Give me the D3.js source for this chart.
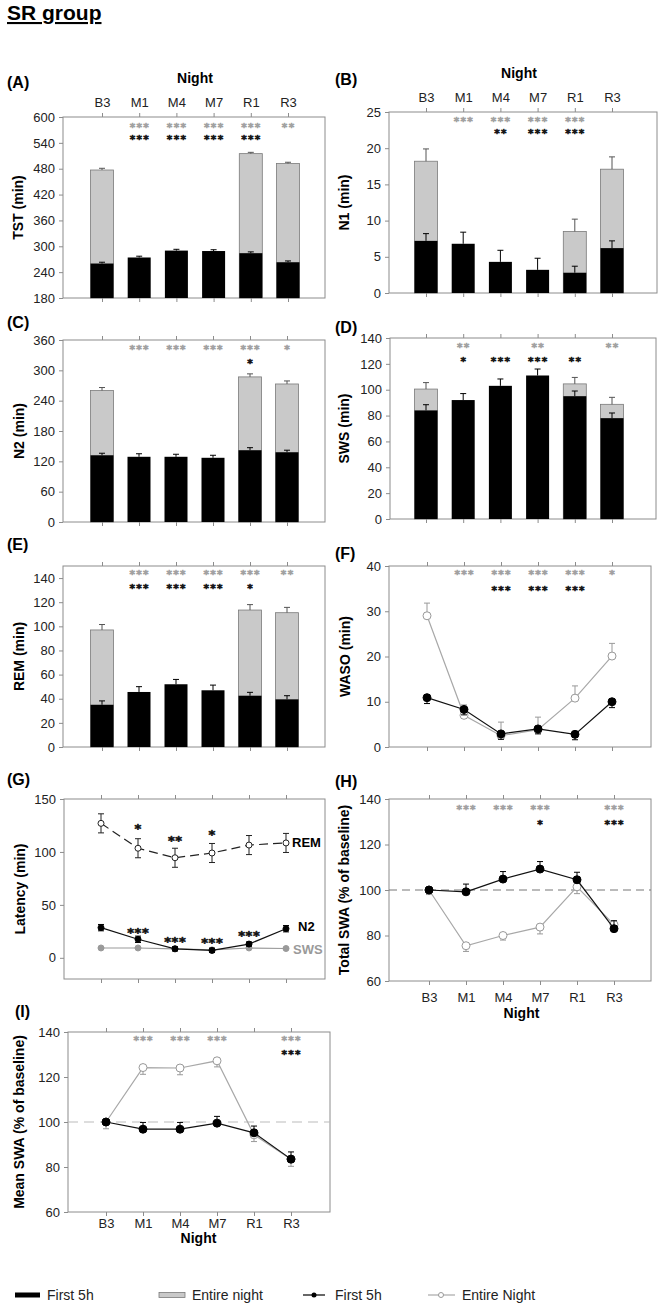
<!DOCTYPE html>
<html>
<head>
<meta charset="utf-8">
<script src="https://cdn.jsdelivr.net/npm/d3@7"></script>
<style>
  body { margin: 0; background: #fff; }
  svg text { font-family: "Liberation Sans", Arial, sans-serif; }
</style>
</head>
<body>
<svg id="fig" width="666" height="1308"></svg>
<script>
// nights on the x axis
const nights = ["B3", "M1", "M4", "M7", "R1", "R3"];

// (A) TST
const tstFirst = [260, 274, 290, 289, 284, 263];
const tstFirstErr = [3, 3, 3, 3, 3, 3];
const tstEntire = [477, null, null, null, 515, 492];
const tstEntireErr = [4, null, null, null, 3, 3];
const tstStarsGray = ["", "***", "***", "***", "***", "**"];
const tstStarsBlack = ["", "***", "***", "***", "***", ""];

// (B) N1
const n1First = [7.2, 6.8, 4.3, 3.2, 2.8, 6.2];
const n1FirstErr = [1.0, 1.6, 1.6, 1.6, 0.9, 1.0];
const n1Entire = [18.2, null, null, null, 8.5, 17.1];
const n1EntireErr = [1.7, null, null, null, 1.7, 1.7];
const n1StarsGray = ["", "***", "***", "***", "***", ""];
const n1StarsBlack = ["", "", "**", "***", "***", ""];

// (C) N2
const n2First = [132, 129, 129, 127, 142, 138];
const n2FirstErr = [4, 6, 5, 5, 5, 4];
const n2Entire = [260, null, null, null, 287, 273];
const n2EntireErr = [6, null, null, null, 6, 6];
const n2StarsGray = ["", "***", "***", "***", "***", "*"];
const n2StarsBlack = ["", "", "", "", "*", ""];

// (D) SWS
const swsFirst = [84, 92, 103, 111, 95, 78];
const swsFirstErr = [4.4, 5, 5.3, 5, 4, 4];
const swsEntire = [100.5, null, null, null, 104.5, 88.7];
const swsEntireErr = [5, null, null, null, 5, 5.4];
const swsStarsGray = ["", "**", "", "**", "", "**"];
const swsStarsBlack = ["", "*", "***", "***", "**", ""];

// (E) REM
const remFirst = [35, 45.6, 52, 47, 42.5, 39.5];
const remFirstErr = [3.2, 4.4, 4, 4.3, 2.8, 3];
const remEntire = [97, null, null, null, 113.5, 111.3];
const remEntireErr = [4.5, null, null, null, 4.5, 4.4];
const remStarsGray = ["", "***", "***", "***", "***", "**"];
const remStarsBlack = ["", "***", "***", "***", "*", ""];

// (F) WASO
const wasoFirst = [10.9, 8.3, 2.9, 4.0, 2.8, 10.0];
const wasoFirstErr = [1.3, 1.2, 1.2, 1.1, 1.2, 1.3];
const wasoEntire = [29.0, 7.0, 2.5, 3.8, 10.8, 20.1];
const wasoEntireErr = [2.8, 2.3, 3.0, 2.8, 2.7, 2.8];
const wasoStarsGray = ["", "***", "***", "***", "***", "*"];
const wasoStarsBlack = ["", "", "***", "***", "***", ""];

// (G) latencies
const latRem = [127, 103.5, 94.5, 99, 106.5, 108.5];
const latRemErr = [9, 9, 9, 9, 9, 9];
const latN2 = [28.5, 17.5, 8.5, 7, 13, 27.5];
const latN2Err = [3, 3, 2, 2, 2, 3];
const latSws = [9.3, 9.3, 8.5, 7.5, 9.3, 8.8];
const latSwsErr = [0.5, 0.5, 2, 2, 0.5, 0.5];
const latRemStars = ["", "*", "**", "*", "", ""];
const latN2Stars = ["", "***", "***", "***", "***", ""];

// (H) total SWA
const tswaFirst = [100, 99.2, 104.8, 109.2, 104.5, 83];
const tswaFirstErr = [0, 3.4, 3.3, 3.3, 3.3, 3.5];
const tswaEntire = [100, 75.5, 80, 83.7, 101.4, 84.8];
const tswaEntireErr = [2, 2.5, 2, 3, 3, 2];
const tswaStarsGray = ["", "***", "***", "***", "", "***"];
const tswaStarsBlack = ["", "", "", "*", "", "***"];

// (I) mean SWA
const mswaFirst = [100, 96.8, 96.8, 99.5, 95.2, 83.5];
const mswaFirstErr = [0, 3, 3, 3, 3, 3.2];
const mswaEntire = [100, 124.2, 124, 127.2, 94.3, 83.5];
const mswaEntireErr = [3, 3, 3, 2.7, 3, 3.2];
const mswaStarsGray = ["", "***", "***", "***", "", "***"];
const mswaStarsBlack = ["", "", "", "", "", "***"];

const FRAME = "#8c8c8c";
const GRAY_LINE = "#a8a8a8";
const GRAY_STAR = "#a0a0a0";
const STAR_FONT = "'DejaVu Sans', sans-serif";

const svg = d3.select("#fig");

// title
svg.append("text").attr("x", 7).attr("y", 20)
  .attr("font-size", 21).attr("font-weight", "bold")
  .attr("text-decoration", "underline").text("SR group");

function makePanel(p) {
  const g = svg.append("g");
  const x = d3.scalePoint().domain(nights).range(p.cat);
  const y = d3.scaleLinear().domain(p.domain).range([p.bottom, p.top]);

  g.append("rect")
    .attr("x", p.left).attr("y", p.top)
    .attr("width", p.right - p.left).attr("height", p.bottom - p.top)
    .attr("fill", "none").attr("stroke", FRAME);

  const ya = g.append("g").attr("transform", `translate(${p.left},0)`)
    .call(d3.axisLeft(y).tickValues(p.ticks).tickSize(4).tickPadding(4));
  const ta = g.append("g").attr("transform", `translate(0,${p.top})`)
    .call(d3.axisTop(x).tickSize(4).tickPadding(6));
  const ba = g.append("g").attr("transform", `translate(0,${p.bottom})`)
    .call(d3.axisBottom(x).tickSize(4).tickPadding(p.bottomPad || 6));

  [ya, ta, ba].forEach(a => {
    a.attr("font-family", null).attr("font-size", null);
    a.select(".domain").remove();
    a.selectAll("line").attr("stroke", FRAME);
    a.selectAll("text").attr("font-size", 13).attr("fill", "#222");
  });
  if (!p.topLabels) ta.selectAll("text").remove();
  if (!p.bottomLabels) ba.selectAll("text").remove();

  const mid = (p.cat[0] + p.cat[1]) / 2;
  if (p.topLabels) {
    g.append("text").attr("x", mid).attr("y", p.top - 34)
      .attr("text-anchor", "middle").attr("font-size", 14).attr("font-weight", "bold").text("Night");
  }
  if (p.bottomLabels) {
    g.append("text").attr("x", mid).attr("y", p.nightY)
      .attr("text-anchor", "middle").attr("font-size", 14).attr("font-weight", "bold").text("Night");
  }

  // y title
  const cy = (p.top + p.bottom) / 2;
  g.append("text")
    .attr("transform", `translate(${p.titleX},${cy}) rotate(-90)`)
    .attr("text-anchor", "middle").attr("font-size", 14).attr("font-weight", "bold")
    .text(p.title);

  // panel letter
  g.append("text").attr("x", p.lab[0]).attr("y", p.lab[1])
    .attr("font-size", 16).attr("font-weight", "bold").text(p.letter);

  const sg = g.append("g");
  return { g, sg, x, y, p };
}

function errBar(P, cx, v, e, dir, color) {
  if (v == null || e == null || e === 0) return;
  const y1 = P.y(v), y2 = P.y(v + dir * e);
  P.g.append("line").attr("x1", cx).attr("x2", cx).attr("y1", y1).attr("y2", y2)
    .attr("stroke", color).attr("stroke-width", 1);
  P.g.append("line").attr("x1", cx - 3).attr("x2", cx + 3).attr("y1", y2).attr("y2", y2)
    .attr("stroke", color).attr("stroke-width", 1);
}

function bars(P, first, firstErr, entire, entireErr) {
  const bw = 23;
  const base = P.y(P.p.domain[0]);
  const gray = nights.map((n, i) => ({ n, v: entire[i], e: entireErr[i] })).filter(d => d.v != null);
  const black = nights.map((n, i) => ({ n, v: first[i], e: firstErr[i] }));

  P.g.selectAll(".gbar").data(gray).join("rect").attr("class", "gbar")
    .attr("x", d => P.x(d.n) - bw / 2).attr("y", d => P.y(d.v))
    .attr("width", bw).attr("height", d => base - P.y(d.v))
    .attr("fill", "#c9c9c9").attr("stroke", "#7a7a7a").attr("stroke-width", 0.8);
  gray.forEach(d => errBar(P, P.x(d.n), d.v, d.e, 1, "#555"));

  P.g.selectAll(".bbar").data(black).join("rect").attr("class", "bbar")
    .attr("x", d => P.x(d.n) - bw / 2).attr("y", d => P.y(d.v))
    .attr("width", bw).attr("height", d => base - P.y(d.v))
    .attr("fill", "#000");
  black.forEach(d => errBar(P, P.x(d.n), d.v, d.e, 1, "#000"));
}

function series(P, vals, errs, o) {
  const pts = nights.map((n, i) => ({ n, v: vals[i], e: errs[i] }));
  pts.forEach(d => {
    if (o.errDir === 0) {
      errBar(P, P.x(d.n), d.v, d.e, 1, o.errColor);
      errBar(P, P.x(d.n), d.v, d.e, -1, o.errColor);
    } else {
      errBar(P, P.x(d.n), d.v, d.e, o.errDir, o.errColor);
    }
  });
  const line = d3.line().x(d => P.x(d.n)).y(d => P.y(d.v));
  P.g.append("path").datum(pts).attr("d", line)
    .attr("fill", "none").attr("stroke", o.stroke).attr("stroke-width", o.width || 1.2)
    .attr("stroke-dasharray", o.dash || null);
  P.g.selectAll(null).data(pts).join("circle")
    .attr("cx", d => P.x(d.n)).attr("cy", d => P.y(d.v)).attr("r", o.r || 4)
    .attr("fill", o.fill).attr("stroke", o.mstroke).attr("stroke-width", 1);
}

// one star string centred on (x, cy); a thin same-colour stroke fattens the small glyphs
function starText(P, x, cy, s, color, fs, ls) {
  P.sg.append("text").attr("x", x + ls / 2).attr("y", cy + 0.55 * fs)
    .attr("text-anchor", "middle").style("font-family", STAR_FONT)
    .style("letter-spacing", ls + "px")
    .attr("font-size", fs).attr("font-weight", "bold")
    .attr("fill", color).attr("stroke", color).attr("stroke-width", 0.6)
    .attr("stroke-linejoin", "round").text(s);
}

// gray row (entire night) above black row (first 5h)
function starRows(P, grayArr, blackArr, gy, by) {
  nights.forEach((n, i) => {
    if (grayArr[i]) starText(P, P.x(n), gy, grayArr[i], GRAY_STAR, 10.5, 1.3);
    if (blackArr[i]) starText(P, P.x(n), by, blackArr[i], "#111", 10.5, 1.3);
  });
}

function stars(P, arr, cys, color) {
  nights.forEach((n, i) => {
    if (arr[i]) starText(P, P.x(n), cys[i], arr[i], color, 13, 0.5);
  });
}

// ---------- panels ----------
const A = makePanel({ left: 63, right: 325, top: 117, bottom: 298, cat: [102, 288],
  domain: [180, 600], ticks: d3.range(180, 601, 60), title: "TST (min)", titleX: 23,
  letter: "(A)", lab: [7, 88], topLabels: true });
bars(A, tstFirst, tstFirstErr, tstEntire, tstEntireErr);
starRows(A, tstStarsGray, tstStarsBlack, 125.3, 137.7);

const B = makePanel({ left: 389, right: 657, top: 112, bottom: 293, cat: [426, 612],
  domain: [0, 25], ticks: d3.range(0, 26, 5), title: "N1 (min)", titleX: 349,
  letter: "(B)", lab: [335, 85], topLabels: true });
bars(B, n1First, n1FirstErr, n1Entire, n1EntireErr);
starRows(B, n1StarsGray, n1StarsBlack, 119.3, 131.7);

const C = makePanel({ left: 63, right: 325, top: 340, bottom: 522, cat: [102, 287],
  domain: [0, 360], ticks: d3.range(0, 361, 60), title: "N2 (min)", titleX: 24,
  letter: "(C)", lab: [7, 328] });
bars(C, n2First, n2FirstErr, n2Entire, n2EntireErr);
starRows(C, n2StarsGray, n2StarsBlack, 347, 361);

const D = makePanel({ left: 390, right: 656, top: 338, bottom: 519, cat: [426, 612],
  domain: [0, 140], ticks: d3.range(0, 141, 20), title: "SWS (min)", titleX: 349,
  letter: "(D)", lab: [335, 333] });
bars(D, swsFirst, swsFirstErr, swsEntire, swsEntireErr);
starRows(D, swsStarsGray, swsStarsBlack, 345, 359);

const E = makePanel({ left: 63, right: 325, top: 566, bottom: 747, cat: [102, 287],
  domain: [0, 150], ticks: d3.range(0, 141, 20), title: "REM (min)", titleX: 24,
  letter: "(E)", lab: [7, 550] });
bars(E, remFirst, remFirstErr, remEntire, remEntireErr);
starRows(E, remStarsGray, remStarsBlack, 572, 586);

const F = makePanel({ left: 389, right: 651, top: 566, bottom: 747, cat: [427, 612],
  domain: [0, 40], ticks: d3.range(0, 41, 10), title: "WASO (min)", titleX: 350,
  letter: "(F)", lab: [335, 559] });
series(F, wasoEntire, wasoEntireErr, { stroke: GRAY_LINE, fill: "#fff", mstroke: "#999", errDir: 1, errColor: "#999" });
series(F, wasoFirst, wasoFirstErr, { stroke: "#111", fill: "#000", mstroke: "#000", errDir: -1, errColor: "#000" });
starRows(F, wasoStarsGray, wasoStarsBlack, 572, 588);

const G = makePanel({ left: 64, right: 325, top: 799, bottom: 979, cat: [101, 286],
  domain: [-20, 150], ticks: [0, 50, 100, 150], title: "Latency (min)", titleX: 25,
  letter: "(G)", lab: [7, 785] });
series(G, latSws, latSwsErr, { stroke: "#9a9a9a", fill: "#9a9a9a", mstroke: "#9a9a9a", errDir: 0, errColor: "#9a9a9a", r: 3 });
series(G, latN2, latN2Err, { stroke: "#111", fill: "#000", mstroke: "#000", errDir: 0, errColor: "#000", r: 3 });
series(G, latRem, latRemErr, { stroke: "#222", fill: "#fff", mstroke: "#222", errDir: 0, errColor: "#222", r: 3, dash: "9,5" });
stars(G, latRemStars, [0, 826, 838, 832, 0, 0], "#111");
stars(G, latN2Stars, [0, 930, 939, 940, 933, 0], "#111");
G.g.append("text").attr("x", 292).attr("y", 847).attr("font-size", 13).attr("font-weight", "bold").text("REM");
G.g.append("text").attr("x", 298).attr("y", 931).attr("font-size", 13).attr("font-weight", "bold").text("N2");
G.g.append("text").attr("x", 293).attr("y", 954).attr("font-size", 13).attr("font-weight", "bold").attr("fill", "#9a9a9a").text("SWS");

const H = makePanel({ left: 389, right: 651, top: 799, bottom: 981, cat: [429, 614],
  domain: [60, 140], ticks: d3.range(60, 141, 20), title: "Total SWA (% of baseline)", titleX: 349,
  letter: "(H)", lab: [335, 787], bottomLabels: true, bottomPad: 8, nightY: 1018 });
H.g.append("line").attr("x1", H.p.left).attr("x2", H.p.right).attr("y1", H.y(100)).attr("y2", H.y(100))
  .attr("stroke", "#777").attr("stroke-dasharray", "8,5");
series(H, tswaEntire, tswaEntireErr, { stroke: GRAY_LINE, fill: "#fff", mstroke: "#999", errDir: -1, errColor: "#999" });
series(H, tswaFirst, tswaFirstErr, { stroke: "#111", fill: "#000", mstroke: "#000", errDir: 1, errColor: "#000" });
starRows(H, tswaStarsGray, tswaStarsBlack, 807, 822);

const I = makePanel({ left: 68, right: 330, top: 1032, bottom: 1212, cat: [106, 291],
  domain: [60, 140], ticks: d3.range(60, 141, 20), title: "Mean SWA (% of baseline)", titleX: 24,
  letter: "(I)", lab: [15, 1017], bottomLabels: true, bottomPad: 3, nightY: 1243 });
I.g.append("line").attr("x1", I.p.left).attr("x2", I.p.right).attr("y1", I.y(100)).attr("y2", I.y(100))
  .attr("stroke", "#bbb").attr("stroke-dasharray", "10,6");
series(I, mswaEntire, mswaEntireErr, { stroke: GRAY_LINE, fill: "#fff", mstroke: "#999", errDir: -1, errColor: "#999" });
series(I, mswaFirst, mswaFirstErr, { stroke: "#111", fill: "#000", mstroke: "#000", errDir: 1, errColor: "#000" });
starRows(I, mswaStarsGray, mswaStarsBlack, 1038.5, 1052.5);

// ---------- legend ----------
const leg = svg.append("g");
const ly = 1295;
const legFont = "'Liberation Sans Narrow', 'Liberation Sans', Arial, sans-serif";
leg.append("rect").attr("x", 15).attr("y", ly - 2.5).attr("width", 25).attr("height", 5).attr("fill", "#000");
leg.append("rect").attr("x", 159).attr("y", ly - 2.5).attr("width", 26).attr("height", 5)
  .attr("fill", "#c9c9c9").attr("stroke", "#7a7a7a").attr("stroke-width", 0.8);
leg.append("line").attr("x1", 303).attr("x2", 325).attr("y1", ly).attr("y2", ly).attr("stroke", "#000").attr("stroke-width", 1.2);
leg.append("circle").attr("cx", 314).attr("cy", ly).attr("r", 2.5).attr("fill", "#000");
leg.append("line").attr("x1", 428).attr("x2", 455).attr("y1", ly).attr("y2", ly).attr("stroke", GRAY_LINE).attr("stroke-width", 1.2);
leg.append("circle").attr("cx", 441).attr("cy", ly).attr("r", 2.5).attr("fill", "#fff").attr("stroke", "#999");
[[47, "First 5h"], [192, "Entire night"], [335, "First 5h"], [462, "Entire Night"]].forEach(([x, t]) => {
  leg.append("text").attr("x", x).attr("y", ly + 5).attr("font-size", 14)
    .style("font-family", legFont).attr("fill", "#222").text(t);
});
</script>
</body>
</html>
